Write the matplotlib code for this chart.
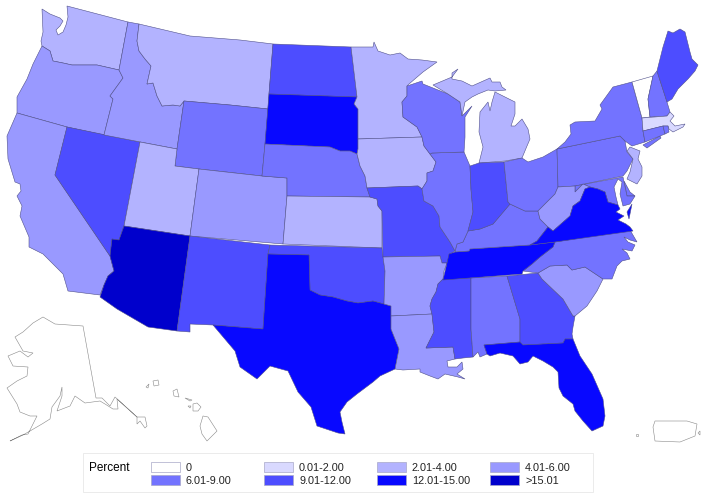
import matplotlib
matplotlib.use('Agg')
import matplotlib.pyplot as plt
from matplotlib.patches import Polygon, Rectangle

plt.rcParams['font.family'] = ['Liberation Sans', 'DejaVu Sans']

# legend classes
bin_labels = ['0', '0.01-2.00', '2.01-4.00', '4.01-6.00',
              '6.01-9.00', '9.01-12.00', '12.01-15.00', '>15.01']
bin_colors = ['#FFFFFF', '#D9D9FF', '#B3B3FF', '#9999FF',
              '#7373FF', '#4D4DFF', '#0808FF', '#0000CC']

# class index of every state
state_bins = {
    'WA': 2, 'OR': 3, 'CA': 3, 'NV': 5, 'ID': 3, 'MT': 2, 'WY': 4, 'UT': 2,
    'CO': 3, 'AZ': 7, 'NM': 5, 'ND': 5, 'SD': 6, 'NE': 4, 'KS': 2, 'OK': 5,
    'TX': 6, 'MN': 2, 'IA': 2, 'MO': 5, 'AR': 3, 'LA': 3, 'WI': 4, 'IL': 4,
    'MS': 5, 'MI_U': 2, 'MI_L': 2, 'IN': 5, 'OH': 4, 'KY': 4, 'TN': 6,
    'AL': 4, 'GA': 5, 'FL': 6, 'SC': 3, 'NC': 4, 'VA': 6, 'VA_E': 6, 'WV': 3,
    'PA': 4, 'NY': 4, 'NY_LI': 4, 'VT': 0, 'NH': 4, 'ME': 5, 'MA': 1, 'CT': 4,
    'RI': 4, 'NJ': 2, 'DE': 4, 'MD': 4,
}

# state outlines, in image pixels
outlines = {
    'WA': [(42,10),(50,15),(60,19),(63,22),(60,27),(56,31),(58,36),(63,33),(66,26),(68,18),(67,7),
           (128,23),(119,71),(97,66),(72,66),(63,64),(53,62),(50,52),(42,47),(41,42),(43,33)],
    'OR': [(42,47),(50,52),(53,62),(63,64),(72,66),(97,66),(119,71),(123,79),(110,97),(113,100),
           (104,136),(67,128),(17,114),(17,98),(27,80),(33,65)],
    'CA': [(17,114),(67,128),(55,176),(110,257),(114,272),(108,277),(104,286),(100,296),(68,292),
           (63,275),(55,267),(43,255),(29,248),(29,238),(20,217),(22,207),(17,197),(21,192),(20,185),
           (15,183),(8,160),(7,137)],
    'NV': [(67,128),(140,143),(124,227),(119,241),(112,240),(110,257),(55,176)],
    'ID': [(128,23),(139,25),(137,42),(139,52),(145,60),(151,67),(147,85),(153,84),(157,97),(162,107),
           (173,106),(180,107),(184,102),(177,150),(104,136),(113,100),(110,97),(123,79),(119,71)],
    'MT': [(139,25),(190,37),(240,41),(273,45),(269,95),(268,110),(230,106),(184,102),(180,107),(173,106),
           (162,107),(157,97),(153,84),(147,85),(151,67),(145,60),(139,52),(137,42)],
    'WY': [(184,102),(230,106),(268,110),(265,145),(262,177),(199,170),(175,167),(177,150)],
    'UT': [(140,143),(177,150),(175,167),(199,170),(190,237),(124,227)],
    'CO': [(199,170),(262,177),(287,179),(287,197),(283,245),(190,237)],
    'AZ': [(124,227),(190,237),(177,332),(148,328),(117,310),(100,298),(104,286),(108,277),(114,272),
           (110,257),(112,240),(119,241)],
    'NM': [(190,237),(270,246),(268,255),(263,330),(213,326),(190,325),(190,333),(177,332)],
    'ND': [(273,45),(351,48),(357,98),(269,95)],
    'SD': [(269,95),(357,98),(354,105),(358,110),(358,150),(357,155),(350,152),(340,152),(330,148),(265,145)],
    'NE': [(265,145),(330,148),(340,152),(350,152),(357,155),(360,167),(365,177),(367,189),(370,198),
           (287,197),(287,179),(262,177)],
    'KS': [(287,197),(370,198),(377,200),(378,207),(382,212),(382,249),(283,245)],
    'OK': [(270,246),(382,249),(383,258),(385,272),(384,305),(373,302),(358,304),(347,302),(333,298),
           (320,296),(310,291),(309,256),(268,255)],
    'TX': [(268,255),(309,256),(310,291),(320,296),(333,298),(347,302),(358,304),(373,302),(384,305),
           (391,307),(391,330),(399,350),(395,370),(380,377),(373,383),(357,395),(347,403),(340,413),
           (342,423),(345,435),(338,434),(317,427),(311,408),(298,393),(288,372),(270,367),(257,380),
           (240,368),(235,352),(213,326),(263,330)],
    'MN': [(351,48),(373,48),(374,43),(378,52),(390,56),(400,54),(408,60),(422,61),(437,63),(423,73),
           (409,85),(407,87),(407,97),(402,103),(403,118),(417,128),(422,138),(358,140),(358,110),
           (354,105),(357,98)],
    'IA': [(358,140),(422,138),(424,147),(430,155),(436,163),(433,172),(427,174),(427,182),(422,190),
           (418,187),(367,189),(365,177),(360,167),(357,155),(358,150)],
    'MO': [(367,189),(418,187),(422,190),(424,202),(433,207),(439,217),(440,228),(450,243),(455,252),
           (450,255),(447,264),(442,264),(440,257),(383,258),(382,212),(378,207),(377,200),(370,198)],
    'AR': [(383,258),(440,257),(442,264),(447,264),(444,272),(443,280),(438,285),(436,293),(432,300),
           (430,307),(432,315),(391,317),(391,307),(384,305),(385,272)],
    'LA': [(391,317),(432,315),(434,333),(426,349),(453,348),(455,360),(447,362),(448,368),(457,368),
           (462,363),(463,370),(457,375),(465,380),(458,378),(445,375),(438,380),(430,377),(420,373),
           (420,370),(403,371),(395,370),(399,350),(391,330)],
    'MS': [(443,280),(471,279),(471,330),(473,358),(463,359),(455,360),(453,348),(426,349),(434,333),
           (432,315),(430,307),(432,300),(436,293),(438,285)],
    'AL': [(471,279),(507,277),(520,320),(520,343),(484,346),(487,355),(480,358),(478,353),(473,358),(471,330)],
    'GA': [(507,277),(538,274),(542,280),(563,300),(573,317),(575,317),(573,328),(572,335),(573,340),
           (565,340),(563,344),(523,346),(520,343),(520,320)],
    'FL': [(484,346),(520,343),(523,346),(563,344),(565,340),(573,340),(580,357),(592,375),(603,400),
           (605,417),(603,427),(592,432),(583,422),(575,412),(573,405),(563,397),(559,389),(558,373),
           (553,368),(543,362),(533,357),(528,363),(520,365),(513,357),(500,354),(490,357),(487,355)],
    'SC': [(538,274),(550,267),(567,266),(572,271),(585,268),(603,280),(597,292),(587,307),(575,317),
           (573,317),(563,300),(542,280)],
    'NC': [(523,272),(532,265),(540,258),(553,248),(555,243),(630,231),(637,243),(630,241),(624,238),
           (628,243),(635,246),(632,252),(622,250),(627,254),(630,260),(622,262),(617,267),(612,280),
           (603,280),(585,268),(572,271),(567,266),(550,267),(538,274)],
    'TN': [(449,255),(455,253),(469,252),(470,250),(530,246),(555,243),(553,248),(540,258),(532,265),
           (523,272),(522,275),(443,281),(447,264)],
    'KY': [(455,253),(469,252),(470,250),(530,246),(537,242),(548,228),(540,220),(538,212),(525,212),
           (510,205),(493,225),(480,230),(468,232),(463,243),(457,245)],
    'IL': [(432,154),(464,153),(470,167),(471,190),(473,213),(468,232),(463,243),(457,245),(455,252),
           (450,243),(440,228),(439,217),(433,207),(424,202),(422,190),(427,182),(427,174),(433,172),
           (436,163),(430,155)],
    'WI': [(407,87),(422,82),(423,85),(448,95),(460,103),(462,117),(472,107),(465,118),(465,138),
           (464,153),(432,154),(430,155),(424,147),(422,138),(417,128),(403,118),(402,103),(407,97)],
    'MI_U': [(433,86),(452,78),(458,70),(452,74),(452,80),(462,82),(472,87),(490,79),(492,83),(500,83),
             (502,88),(506,91),(495,92),(488,91),(478,95),(472,98),(465,103),(462,117),(460,103),(448,95)],
    'MI_L': [(495,93),(515,103),(515,115),(511,127),(515,127),(522,120),(528,130),(530,140),(527,147),
             (522,159),(505,162),(479,164),(483,148),(479,133),(480,113),(488,103),(490,112),(492,103)],
    'IN': [(470,167),(479,164),(504,163),(508,203),(510,205),(493,225),(480,230),(468,232),(473,213),(471,190)],
    'OH': [(504,163),(522,159),(528,163),(543,158),(557,150),(558,188),(555,195),(543,207),(538,212),
           (525,212),(510,205),(508,203)],
    'PA': [(557,150),(620,137),(625,142),(627,153),(633,160),(627,172),(623,177),(575,187),(558,188)],
    'NY': [(557,150),(565,143),(571,135),(570,126),(575,123),(595,122),(602,110),(600,106),(613,88),
           (632,83),(642,119),(643,132),(645,143),(632,147),(625,142),(620,137)],
    'NY_LI': [(643,146),(660,137),(661,139),(647,149)],
    'VT': [(632,83),(653,77),(648,100),(650,118),(642,119)],
    'NH': [(653,77),(657,72),(667,103),(670,113),(667,117),(650,118),(648,100)],
    'ME': [(657,72),(663,48),(668,32),(673,34),(680,30),(685,33),(690,53),(692,60),(698,66),(695,72),
           (688,80),(678,90),(672,100),(667,103)],
    'MA': [(642,119),(667,117),(670,113),(674,117),(670,122),(675,127),(685,125),(683,128),(673,133),
           (669,130),(668,127),(663,127),(643,132)],
    'CT': [(643,132),(663,127),(665,135),(645,143)],
    'RI': [(663,127),(668,127),(669,133),(665,135)],
    'NJ': [(627,152),(630,148),(640,152),(638,160),(642,168),(642,177),(637,185),(627,180),(630,173),(633,160)],
    'DE': [(624,182),(630,193),(635,197),(627,197)],
    'MD': [(575,187),(623,178),(624,183),(627,197),(635,197),(630,205),(623,207),(620,195),(622,183),
           (618,180),(614,188),(616,198),(618,206),(608,203),(605,193),(598,190),(590,188),(583,185),(575,193)],
    'WV': [(538,212),(543,207),(555,195),(558,188),(575,187),(575,193),(583,185),(590,188),(585,190),
           (580,202),(573,207),(570,217),(553,232),(548,228),(540,220)],
    'VA': [(530,246),(537,242),(548,228),(553,232),(570,217),(573,207),(580,202),(585,190),(590,188),
           (598,190),(605,193),(608,203),(618,206),(620,210),(616,213),(624,217),(618,221),(626,225),
           (630,228),(633,232),(555,243)],
    'VA_E': [(632,205),(629,220),(627,213)],
}

# outlines with no fill (Alaska, Hawaii, Puerto Rico)
alaska = [(43,318),(55,325),(83,327),(96,399),(102,399),(110,407),(115,398),(137,418),(145,418),(147,427),
          (145,429),(140,422),(137,425),(137,418),(117,400),(118,410),(113,410),(105,405),(100,402),(85,404),
          (75,397),(70,407),(57,412),(62,397),(62,388),(60,397),(52,408),(50,420),(42,425),(30,432),(23,436),
          (10,442),(22,436),(28,435),(37,417),(30,417),(20,413),(17,405),(7,389),(17,382),(27,377),(28,368),
          (13,367),(8,357),(20,352),(28,358),(33,354),(23,352),(15,338),(23,333),(33,324)]
hawaii = [
    [(153,382),(158,381),(159,386),(154,387)],
    [(146,388),(149,385),(148,389)],
    [(173,392),(177,390),(179,398),(174,397)],
    [(185,399),(192,401),(190,402)],
    [(188,407),(191,407),(190,409)],
    [(193,405),(197,404),(201,408),(198,412),(193,412)],
    [(203,417),(208,418),(217,432),(207,442),(202,435),(200,427)],
]
puerto_rico = [
    [(655,422),(687,422),(697,425),(695,437),(680,443),(655,442),(653,428)],
    [(636,435),(638,435),(638,437),(636,437)],
    [(698,434),(700,432),(700,436)],
]

fig = plt.figure(figsize=(7.14, 5.02), dpi=100)
ax = fig.add_axes([0, 0, 1, 1])
ax.set_xlim(0, 714)
ax.set_ylim(502, 0)
ax.axis('off')

for name, pts in outlines.items():
    ax.add_patch(Polygon(pts, closed=True, facecolor=bin_colors[state_bins[name]],
                         edgecolor='#50508a', linewidth=0.4))

for pts in [alaska] + hawaii + puerto_rico:
    ax.add_patch(Polygon(pts, closed=True, facecolor='white',
                         edgecolor='#888888', linewidth=0.4))

# legend box
ax.add_patch(Rectangle((83, 454), 510, 39, facecolor='white', edgecolor='#e8e8e8', linewidth=0.6))
ax.text(89, 468, 'Percent', fontsize=8.5, va='center', ha='left', color='black')
col_x = [151, 264, 377, 490]
row_y = [463, 476]
for i, (label, colour) in enumerate(zip(bin_labels, bin_colors)):
    x = col_x[i % 4]
    y = row_y[i // 4]
    ax.add_patch(Rectangle((x, y), 29, 9.5, facecolor=colour, edgecolor='#a8a8c8', linewidth=0.5))
    ax.text(x + 35, y + 5, label, fontsize=7.8, va='center', ha='left', color='#222222')

fig.savefig('out.png', dpi=100)
